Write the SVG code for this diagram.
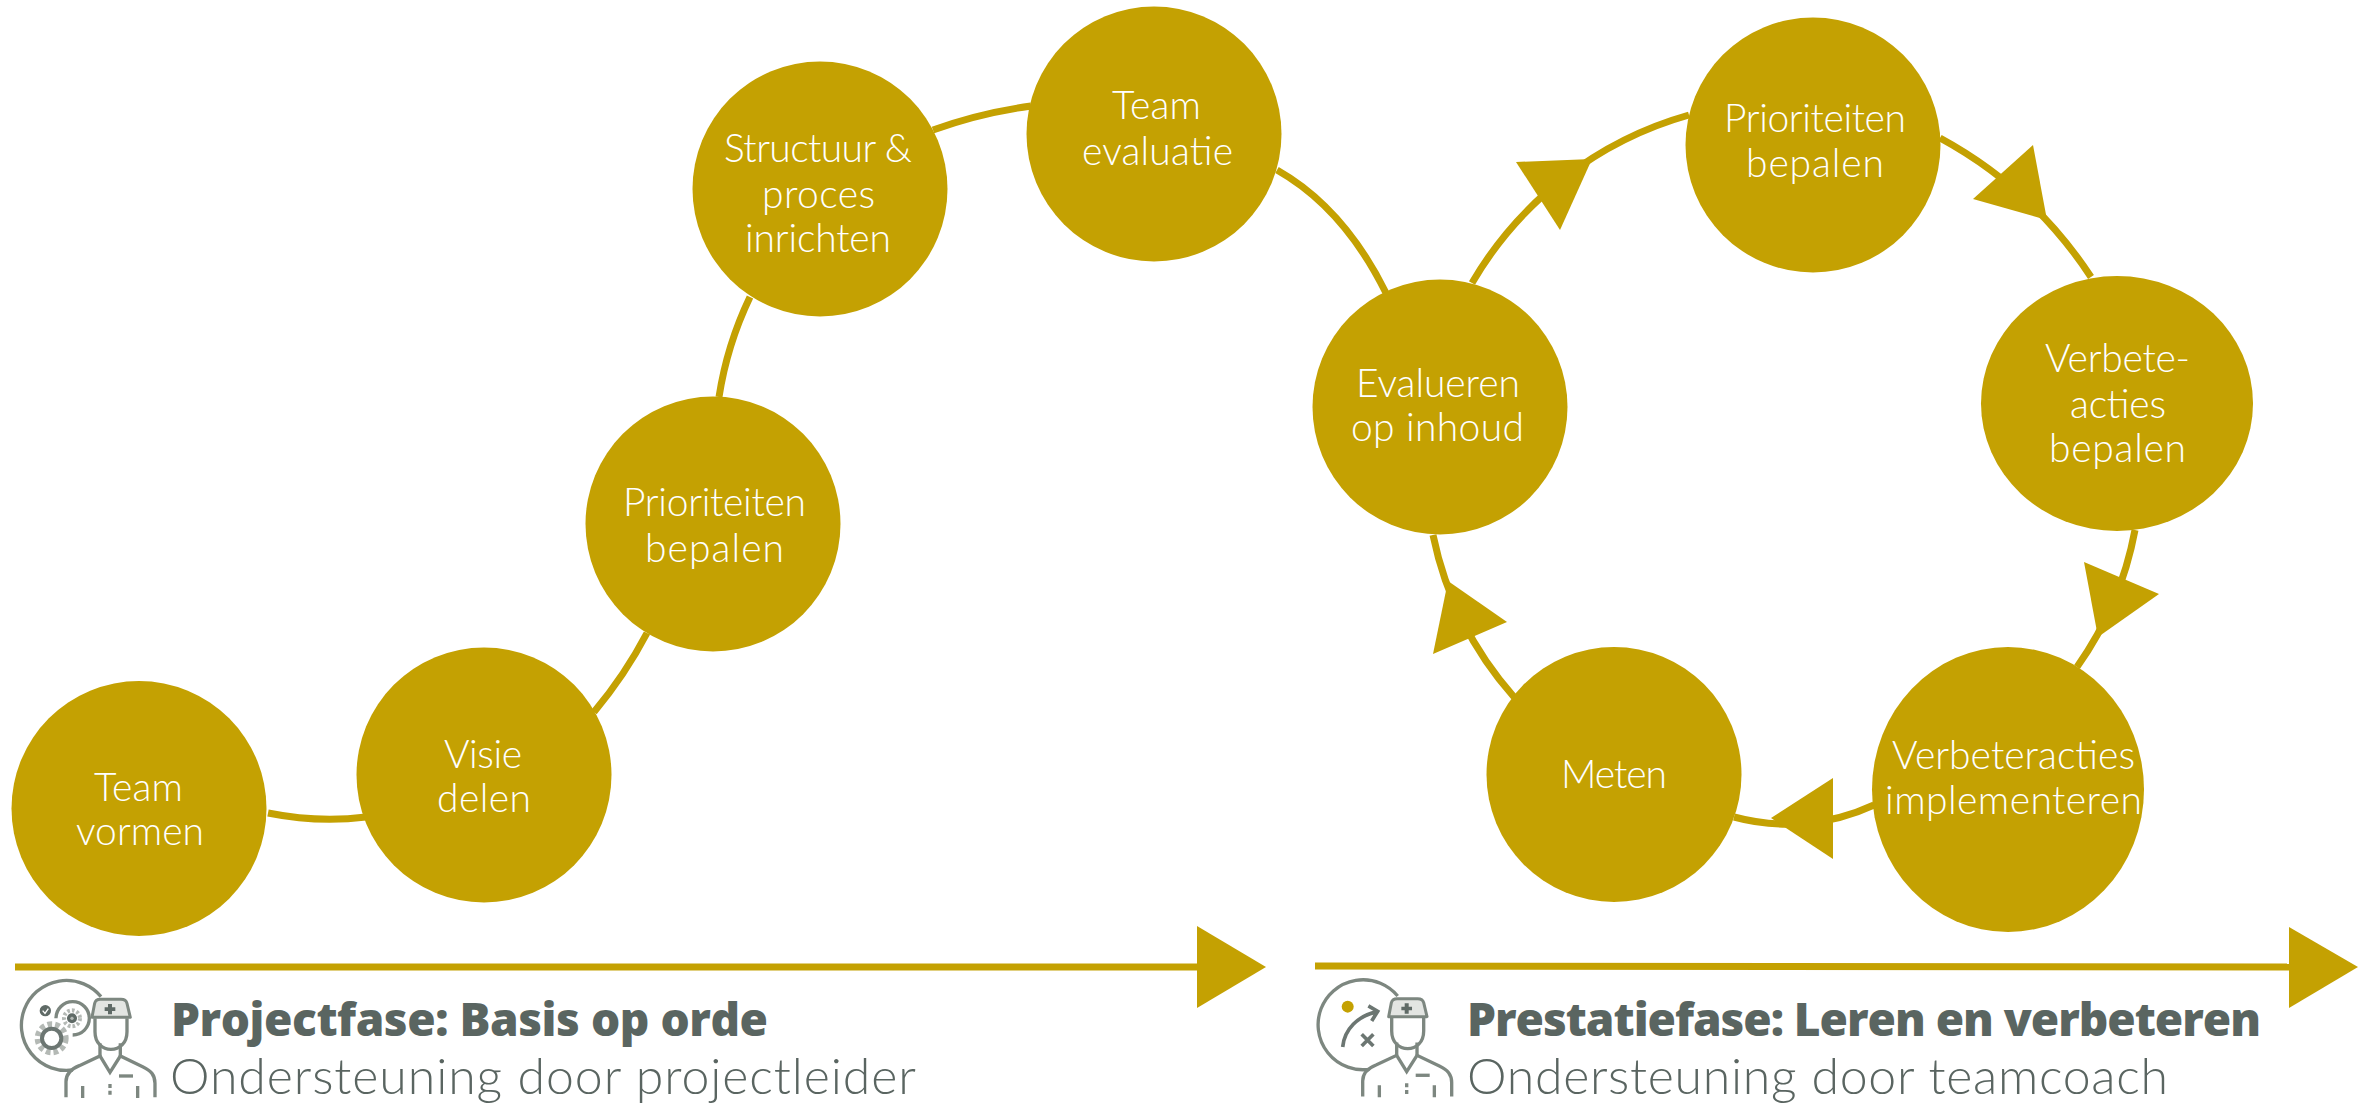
<svg xmlns="http://www.w3.org/2000/svg" width="2369" height="1106" viewBox="0 0 2369 1106">
<style>
.n{fill:#c4a102}
.t{font-family:"Lato","Liberation Sans",sans-serif;font-weight:300;font-size:39px;fill:#fff;text-anchor:middle;transform:translateY(1px)}
.c{fill:none;stroke:#c4a102;stroke-width:7}
.a{fill:#c4a102}
.b{font-family:"Open Sans","Liberation Sans",sans-serif;font-weight:800;font-size:46px;fill:#5a6561}
.l{font-family:"Lato","Liberation Sans",sans-serif;font-weight:300;font-size:50px;fill:#5a6561}
.ic{fill:none;stroke:#7d8780;stroke-width:10}
.d{fill:#5f6a66}
</style>
<defs>
<g id="person">
<path class="ic" d="M195 412V365C195 340 215 325 235 317L297 288L327 337L358 288L425 320C450 332 462 345 462 370V412"/>
<path class="ic" d="M297 250V288M358 250V288"/>
<path class="ic" d="M282 175V215C282 250 305 268 330 268C355 268 378 250 378 215V175"/>
<path d="M273 172L281 130Q284 118 298 118H360Q375 118 378 130L388 172Z" fill="#e3e5e2" stroke="#7d8780" stroke-width="9" stroke-linejoin="round"/>
<path class="d" d="M321 132H333V142H343V153H333V163H321V153H311V142H321Z"/>
<path class="ic" d="M354 348H396" stroke-width="11"/>
<path class="ic" d="M245 378V414M410 378V414M327 372V384M327 392V404" stroke-width="12"/>
</g>
</defs>
<g id="connectors">
<path class="c" d="M268 813Q318 823 366 817"/>
<path class="c" d="M594 712Q625 675 647 633"/>
<path class="c" d="M719 397Q727 345 750 297"/>
<path class="c" d="M933 130Q980 113 1031 106"/>
<path class="c" d="M1277 170Q1344 208 1386 293"/>
<path class="c" d="M1472 283A366 366 0 0 1 1689 115"/>
<path class="c" d="M1940 138A420 420 0 0 1 2091 277"/>
<path class="c" d="M2135 530A347 347 0 0 1 2077 667"/>
<path class="c" d="M1874 805A205 205 0 0 1 1734 817"/>
<path class="c" d="M1514 697A352 352 0 0 1 1433 535"/>
<path class="a" d="M1516 162L1592 159L1560 230Z"/>
<path class="a" d="M2033 145L2047 220L1973 199Z"/>
<path class="a" d="M2084 562L2159 594L2098 637Z"/>
<path class="a" d="M1833 778V859L1771 818Z"/>
<path class="a" d="M1433 654L1507 622L1448 581Z"/>
<path class="c" d="M15 967H1197" stroke-width="6"/>
<path class="a" d="M1197 926V1008L1266 967Z"/>
<path class="c" d="M1315 966L2290 967" stroke-width="6"/>
<path class="a" d="M2289 927V1008L2358 967Z"/>
</g>
<g id="n1"><circle class="n" cx="139" cy="808.5" r="127.5"/><text class="t"><tspan x="138.5" y="800" textLength="89">Team</tspan><tspan x="140" y="844" textLength="128">vormen</tspan></text></g>
<g id="n2"><circle class="n" cx="484" cy="775" r="127.5"/><text class="t"><tspan x="483" y="767" textLength="78">Visie</tspan><tspan x="484" y="811" textLength="94">delen</tspan></text></g>
<g id="n3"><circle class="n" cx="713" cy="524" r="127.5"/><text class="t"><tspan x="714.5" y="515" textLength="183">Prioriteiten</tspan><tspan x="714.5" y="561" textLength="139">bepalen</tspan></text></g>
<g id="n4"><circle class="n" cx="820" cy="189" r="127.5"/><text class="t"><tspan x="818" y="161" textLength="188">Structuur &amp;</tspan><tspan x="818.5" y="207" textLength="113">proces</tspan><tspan x="818" y="251" textLength="146">inrichten</tspan></text></g>
<g id="n5"><circle class="n" cx="1154" cy="134" r="127.5"/><text class="t"><tspan x="1156.5" y="118" textLength="89">Team</tspan><tspan x="1157.5" y="164" textLength="151">evaluatie</tspan></text></g>
<g id="n6"><circle class="n" cx="1440" cy="407" r="127.5"/><text class="t"><tspan x="1438" y="396" textLength="164">Evalueren</tspan><tspan x="1437.5" y="440" textLength="173">op inhoud</tspan></text></g>
<g id="n7"><circle class="n" cx="1813" cy="145" r="127.5"/><text class="t"><tspan x="1815" y="131" textLength="182">Prioriteiten</tspan><tspan x="1815" y="176" textLength="138">bepalen</tspan></text></g>
<g id="n8"><ellipse class="n" cx="2117" cy="403.5" rx="136" ry="127.5"/><text class="t"><tspan x="2117.5" y="371" textLength="145">Verbete-</tspan><tspan x="2118" y="417" textLength="96">acties</tspan><tspan x="2117.5" y="461" textLength="137">bepalen</tspan></text></g>
<g id="n9"><ellipse class="n" cx="2008" cy="789.5" rx="136" ry="142.5"/><text class="t"><tspan x="2013.5" y="768" textLength="243">Verbeteracties</tspan><tspan x="2013.5" y="813" textLength="257">implementeren</tspan></text></g>
<g id="n10"><circle class="n" cx="1614" cy="774.5" r="127.5"/><text class="t"><tspan x="1614" y="787" textLength="106">Meten</tspan></text></g>
<g id="phase1">
<g transform="translate(1 960) scale(.3333)">
<path class="ic" d="M300 110A135 135 0 1 0 215 330"/>
<path class="ic" d="M165 175A50 50 0 1 1 215 225"/>
<circle cx="133" cy="152" r="17" class="d"/>
<path d="M125 152L132 160L142 146" fill="none" stroke="#fff" stroke-width="4"/>
<circle cx="152" cy="235" r="42" fill="none" stroke="#b4b9b5" stroke-width="18" stroke-dasharray="14 9"/>
<circle cx="152" cy="235" r="29" fill="none" stroke="#6c7672" stroke-width="12"/>
<circle cx="213" cy="175" r="24" fill="none" stroke="#b4b9b5" stroke-width="12" stroke-dasharray="8 6"/>
<circle cx="213" cy="175" r="15" class="d"/>
<circle cx="213" cy="175" r="5" fill="#b4b9b5"/>
<use href="#person"/>
</g>
<text class="b" x="171" y="1036" textLength="597">Projectfase: Basis op orde</text>
<text class="l" x="170" y="1094" textLength="746">Ondersteuning door projectleider</text>
</g>
<g id="phase2">
<g transform="translate(1297.7 959.3) scale(.3333)">
<path class="ic" d="M300 110A135 135 0 1 0 215 330"/>
<circle cx="150" cy="142" r="18" fill="#c4a102"/>
<path d="M135 263C140 210 180 170 238 157M212 140L240 156L222 185" fill="none" stroke="#6c7672" stroke-width="11"/>
<path d="M192 225L227 260M227 225L192 260" fill="none" stroke="#6c7672" stroke-width="11"/>
<use href="#person"/>
</g>
<text class="b" x="1467" y="1036" textLength="794">Prestatiefase: Leren en verbeteren</text>
<text class="l" x="1467" y="1094" textLength="701">Ondersteuning door teamcoach</text>
</g>
</svg>
